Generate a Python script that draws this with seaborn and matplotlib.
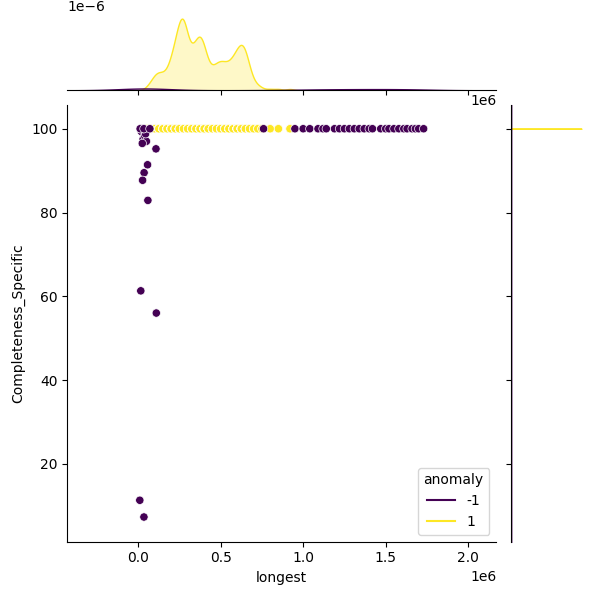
import numpy as np
import pandas as pd
import seaborn as sns
from matplotlib import pyplot as plt
from matplotlib.lines import Line2D

# anomaly = -1 : scattered outliers + long tail at 100
neg_x = [0.010e6, 0.035e6, 0.016e6, 0.110e6, 0.059e6, 0.057e6, 0.036e6, 0.027e6, 0.108e6,
         0.020e6, 0.030e6, 0.040e6, 0.050e6, 0.025e6, 0.045e6, 0.015e6, 0.030e6,
         0.012e6, 0.035e6, 0.071e6, 0.76e6, 0.95e6, 1.00e6, 1.04e6, 1.09e6, 1.12e6,
         1.14e6, 1.19e6, 1.22e6, 1.25e6, 1.28e6, 1.31e6, 1.34e6, 1.37e6, 1.40e6,
         1.42e6, 1.47e6, 1.50e6, 1.52e6, 1.55e6, 1.58e6, 1.61e6, 1.63e6, 1.66e6,
         1.68e6, 1.70e6, 1.73e6]
neg_y = [11.3, 7.3, 61.3, 56.0, 82.9, 91.4, 89.5, 87.7, 95.2,
         99.3, 97.5, 98.3, 97.0, 96.5, 98.8, 100, 100,
         100, 100, 100, 100, 100, 100, 100, 100, 100,
         100, 100, 100, 100, 100, 100, 100, 100, 100,
         100, 100, 100, 100, 100, 100, 100, 100, 100,
         100, 100, 100]

# anomaly = 1 : all near 100, longest values with counts
pos_x = [0.05e6, 0.075e6, 0.10e6, 0.125e6, 0.15e6, 0.175e6, 0.20e6, 0.225e6, 0.25e6,
         0.275e6, 0.30e6, 0.325e6, 0.35e6, 0.375e6, 0.40e6, 0.425e6, 0.45e6, 0.475e6,
         0.50e6, 0.525e6, 0.55e6, 0.575e6, 0.60e6, 0.625e6, 0.65e6, 0.675e6, 0.70e6,
         0.725e6, 0.75e6, 0.80e6, 0.85e6, 0.92e6]
pos_n = [2, 6, 12, 14, 12, 14, 24, 36, 52,
         60, 36, 28, 36, 44, 34, 18, 16, 20,
         22, 20, 20, 24, 30, 36, 32, 16, 6,
         4, 2, 2, 2, 2]

px = np.repeat(pos_x, pos_n)
py = np.full(len(px), 100.0)
py[[5, 400]] = 99.9

df = pd.DataFrame({
    'longest': np.concatenate([px, neg_x]),
    'Completeness_Specific': np.concatenate([py, neg_y]),
    'anomaly': [1] * len(px) + [-1] * len(neg_x),
})

g = sns.jointplot(data=df, x='longest', y='Completeness_Specific', hue='anomaly',
                  palette='viridis', height=6, xlim=(-0.43e6, 2.17e6), ylim=(1.4, 105.6),
                  marginal_kws=dict(bw_adjust=0.5))

cols = sns.color_palette('viridis', as_cmap=True)
handles = [Line2D([], [], color=cols(0.0)), Line2D([], [], color=cols(1.0))]
if g.ax_joint.legend_ is not None:
    g.ax_joint.legend_.remove()
g.ax_joint.legend(handles, ['-1', '1'], title='anomaly', loc='lower right')

g.figure.subplots_adjust(left=0.112)
plt.savefig('out.png', dpi=100)
